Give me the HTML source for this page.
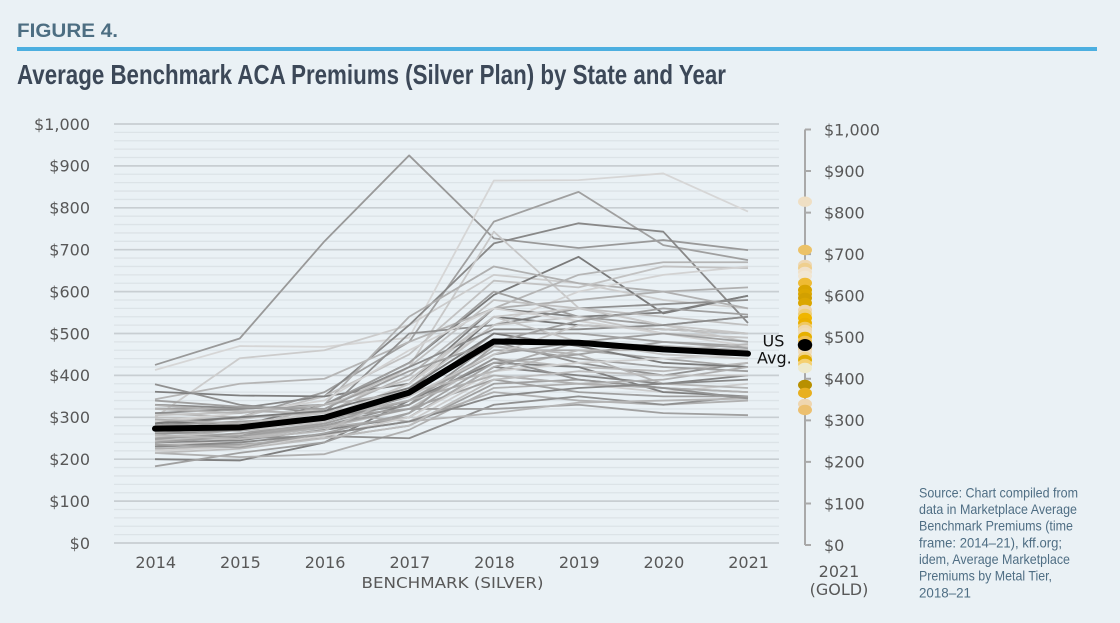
<!DOCTYPE html>
<html>
<head>
<meta charset="utf-8">
<style>
html,body{margin:0;padding:0;background:#eaf1f5;}
svg{display:block;}
</style>
</head>
<body>
<svg width="1120" height="623" viewBox="0 0 1120 623" xmlns="http://www.w3.org/2000/svg">
<rect x="0" y="0" width="1120" height="623" fill="#eaf1f5"/>

<!-- Header -->
<text x="17" y="37" font-family="Liberation Sans, sans-serif" font-weight="bold" font-size="19" fill="#4d6e82" textLength="101" lengthAdjust="spacingAndGlyphs">FIGURE 4.</text>
<rect x="17" y="47" width="1080" height="4" fill="#4cafe0"/>
<text x="17" y="84" font-family="Liberation Sans, sans-serif" font-weight="bold" font-size="28" fill="#3c4858" textLength="709" lengthAdjust="spacingAndGlyphs">Average Benchmark ACA Premiums (Silver Plan) by State and Year</text>

<!-- Gridlines -->
<g transform="translate(0,543) scale(1,-0.419)">
<path vector-effect="non-scaling-stroke" stroke="#dce3e7" stroke-width="1.3" fill="none" d="M114 20H779M114 40H779M114 60H779M114 80H779M114 120H779M114 140H779M114 160H779M114 180H779M114 220H779M114 240H779M114 260H779M114 280H779M114 320H779M114 340H779M114 360H779M114 380H779M114 420H779M114 440H779M114 460H779M114 480H779M114 520H779M114 540H779M114 560H779M114 580H779M114 620H779M114 640H779M114 660H779M114 680H779M114 720H779M114 740H779M114 760H779M114 780H779M114 820H779M114 840H779M114 860H779M114 880H779M114 920H779M114 940H779M114 960H779M114 980H779"/>
<path vector-effect="non-scaling-stroke" stroke="#c8ced2" stroke-width="1.7" fill="none" d="M114 0H779M114 100H779M114 200H779M114 300H779M114 400H779M114 500H779M114 600H779M114 700H779M114 800H779M114 900H779M114 1000H779"/>
</g>

<!-- Left axis labels -->
<g font-family="DejaVu Sans, sans-serif" font-size="16" fill="#585858" text-anchor="end">
<text x="90" y="548.8">$0</text>
<text x="90" y="506.9">$100</text>
<text x="90" y="465">$200</text>
<text x="90" y="423.1">$300</text>
<text x="90" y="381.2">$400</text>
<text x="90" y="339.3">$500</text>
<text x="90" y="297.4">$600</text>
<text x="90" y="255.5">$700</text>
<text x="90" y="213.6">$800</text>
<text x="90" y="171.7">$900</text>
<text x="90" y="129.8">$1,000</text>
</g>

<!-- Year labels -->
<g font-family="DejaVu Sans, sans-serif" font-size="16" fill="#585858" text-anchor="middle">
<text x="155.7" y="568">2014</text>
<text x="240.4" y="568">2015</text>
<text x="325.1" y="568">2016</text>
<text x="409.8" y="568">2017</text>
<text x="494.5" y="568">2018</text>
<text x="579.2" y="568">2019</text>
<text x="663.9" y="568">2020</text>
<text x="748.6" y="568">2021</text>
<text x="452.5" y="588" font-size="15.5" textLength="182" lengthAdjust="spacingAndGlyphs">BENCHMARK (SILVER)</text>
<text x="839" y="577">2021</text>
<text x="839" y="595">(GOLD)</text>
</g>

<!-- State lines -->
<g transform="matrix(84.714 0 0 -0.419 155 543)" fill="none" stroke-width="1.8" stroke-linejoin="round">
<polyline vector-effect="non-scaling-stroke" stroke="#999999" points="0,425 1,488 2,720 3,925 4,727 5,704 6,723 7,699"/>
<polyline vector-effect="non-scaling-stroke" stroke="#d6d6d6" points="0,413 1,470 2,468 3,490 4,865 5,866 6,882 7,791"/>
<polyline vector-effect="non-scaling-stroke" stroke="#cccccc" points="0,300 1,441 2,460 3,520 4,640 5,620 6,580 7,560"/>
<polyline vector-effect="non-scaling-stroke" stroke="#a0a0a0" points="0,280 1,300 2,360 3,480 4,767 5,838 6,711 7,675"/>
<polyline vector-effect="non-scaling-stroke" stroke="#888888" points="0,330 1,322 2,350 3,520 4,715 5,763 6,743 7,525"/>
<polyline vector-effect="non-scaling-stroke" stroke="#7a7a7a" points="0,260 1,280 2,330 3,430 4,592 5,683 6,548 7,590"/>
<polyline vector-effect="non-scaling-stroke" stroke="#c8c8c8" points="0,240 1,260 2,300 3,420 4,743 5,561 6,520 7,480"/>
<polyline vector-effect="non-scaling-stroke" stroke="#b0b0b0" points="0,250 1,270 2,330 3,540 4,660 5,620 6,600 7,610"/>
<polyline vector-effect="non-scaling-stroke" stroke="#c2c2c2" points="0,290 1,300 2,350 3,450 4,626 5,610 6,660 7,656"/>
<polyline vector-effect="non-scaling-stroke" stroke="#b5b5b5" points="0,343 1,380 2,392 3,480 4,560 5,640 6,670 7,670"/>
<polyline vector-effect="non-scaling-stroke" stroke="#d2d2d2" points="0,230 1,250 2,290 3,380 4,520 5,600 6,640 7,660"/>
<polyline vector-effect="non-scaling-stroke" stroke="#7f7f7f" points="0,361 1,352 2,350 3,380 4,560 5,540 6,550 7,590"/>
<polyline vector-effect="non-scaling-stroke" stroke="#909090" points="0,379 1,330 2,310 3,500 4,520 5,560 6,570 7,580"/>
<polyline vector-effect="non-scaling-stroke" stroke="#a0a0a0" points="0,321 1,320 2,330 3,430 4,600 5,540 6,520 7,540"/>
<polyline vector-effect="non-scaling-stroke" stroke="#b0b0b0" points="0,329 1,315 2,310 3,400 4,560 5,580 6,600 7,560"/>
<polyline vector-effect="non-scaling-stroke" stroke="#757575" points="0,290 1,280 2,300 3,360 4,540 5,520 6,510 7,500"/>
<polyline vector-effect="non-scaling-stroke" stroke="#c0c0c0" points="0,300 1,295 2,320 3,420 4,580 5,560 6,540 7,520"/>
<polyline vector-effect="non-scaling-stroke" stroke="#a0a0a0" points="0,270 1,268 2,290 3,350 4,500 5,500 6,480 7,470"/>
<polyline vector-effect="non-scaling-stroke" stroke="#c4c4c4" points="0,262 1,270 2,290 3,370 4,520 5,540 6,500 7,490"/>
<polyline vector-effect="non-scaling-stroke" stroke="#929292" points="0,255 1,260 2,280 3,330 4,480 5,430 6,400 7,430"/>
<polyline vector-effect="non-scaling-stroke" stroke="#a8a8a8" points="0,250 1,255 2,285 3,340 4,460 5,460 6,440 7,420"/>
<polyline vector-effect="non-scaling-stroke" stroke="#bababa" points="0,245 1,250 2,275 3,320 4,440 5,420 6,410 7,430"/>
<polyline vector-effect="non-scaling-stroke" stroke="#848484" points="0,240 1,245 2,270 3,300 4,420 5,400 6,380 7,400"/>
<polyline vector-effect="non-scaling-stroke" stroke="#cccccc" points="0,235 1,240 2,260 3,290 4,400 5,380 6,360 7,380"/>
<polyline vector-effect="non-scaling-stroke" stroke="#a0a0a0" points="0,230 1,235 2,250 3,280 4,380 5,390 6,370 7,360"/>
<polyline vector-effect="non-scaling-stroke" stroke="#b0b0b0" points="0,225 1,232 2,260 3,290 4,360 5,340 6,330 7,340"/>
<polyline vector-effect="non-scaling-stroke" stroke="#7f7f7f" points="0,200 1,197 2,240 3,340 4,430 5,420 6,360 7,350"/>
<polyline vector-effect="non-scaling-stroke" stroke="#a0a0a0" points="0,183 1,215 2,240 3,310 4,470 5,440 6,420 7,410"/>
<polyline vector-effect="non-scaling-stroke" stroke="#b0b0b0" points="0,215 1,205 2,212 3,270 4,370 5,380 6,370 7,360"/>
<polyline vector-effect="non-scaling-stroke" stroke="#909090" points="0,270 1,250 2,255 3,250 4,330 5,350 6,330 7,350"/>
<polyline vector-effect="non-scaling-stroke" stroke="#a0a0a0" points="0,280 1,290 2,300 3,320 4,320 5,330 6,310 7,305"/>
<polyline vector-effect="non-scaling-stroke" stroke="#b5b5b5" points="0,310 1,300 2,310 3,290 4,310 5,335 6,340 7,345"/>
<polyline vector-effect="non-scaling-stroke" stroke="#adadad" points="0,265 1,255 2,275 3,300 4,420 5,480 6,470 7,460"/>
<polyline vector-effect="non-scaling-stroke" stroke="#c8c8c8" points="0,255 1,260 2,300 3,380 4,540 5,560 6,520 7,500"/>
<polyline vector-effect="non-scaling-stroke" stroke="#8c8c8c" points="0,310 1,320 2,330 3,420 4,510 5,510 6,520 7,540"/>
<polyline vector-effect="non-scaling-stroke" stroke="#d2d2d2" points="0,290 1,310 2,340 3,460 4,560 5,530 6,500 7,470"/>
<polyline vector-effect="non-scaling-stroke" stroke="#a0a0a0" points="0,248 1,262 2,285 3,340 4,450 5,480 6,500 7,480"/>
<polyline vector-effect="non-scaling-stroke" stroke="#c4c4c4" points="0,305 1,312 2,330 3,390 4,540 5,480 6,450 7,440"/>
<polyline vector-effect="non-scaling-stroke" stroke="#7a7a7a" points="0,285 1,300 2,315 3,370 4,500 5,470 6,430 7,420"/>
<polyline vector-effect="non-scaling-stroke" stroke="#b5b5b5" points="0,320 1,310 2,330 3,360 4,470 5,450 6,380 7,370"/>
<polyline vector-effect="non-scaling-stroke" stroke="#a0a0a0" points="0,240 1,255 2,280 3,320 4,390 5,360 6,350 7,350"/>
<polyline vector-effect="non-scaling-stroke" stroke="#cfcfcf" points="0,220 1,230 2,255 3,300 4,410 5,430 6,440 7,450"/>
<polyline vector-effect="non-scaling-stroke" stroke="#939393" points="0,260 1,270 2,300 3,330 4,440 5,390 6,370 7,345"/>
<polyline vector-effect="non-scaling-stroke" stroke="#c4c4c4" points="0,275 1,285 2,310 3,350 4,450 5,520 6,510 7,500"/>
<polyline vector-effect="non-scaling-stroke" stroke="#b0b0b0" points="0,295 1,285 2,300 3,340 4,400 5,380 6,390 7,420"/>
<polyline vector-effect="non-scaling-stroke" stroke="#888888" points="0,230 1,240 2,260 3,290 4,350 5,370 6,380 7,390"/>
<polyline vector-effect="non-scaling-stroke" stroke="#bdbdbd" points="0,215 1,225 2,250 3,280 4,390 5,410 6,400 7,400"/>
<polyline vector-effect="non-scaling-stroke" stroke="#a0a0a0" points="0,340 1,325 2,320 3,410 4,480 5,530 6,560 7,545"/>
<polyline vector-effect="non-scaling-stroke" stroke="#b9b9b9" points="0,258 1,248 2,268 3,360 4,410 5,460 6,460 7,475"/>
<polyline vector-effect="non-scaling-stroke" stroke="#a3a3a3" points="0,235 1,228 2,262 3,310 4,430 5,450 6,480 7,465"/>
<!-- US average -->
<polyline vector-effect="non-scaling-stroke" stroke="#000000" stroke-width="6" stroke-linecap="round" points="0,273 1,276 2,299 3,359 4,481 5,478 6,462 7,452"/>
</g>

<!-- US Avg label -->
<g font-family="DejaVu Sans, sans-serif" font-size="16" fill="#111">
<text x="762.5" y="346.5">US</text>
<text x="757" y="363.5">Avg.</text>
</g>

<!-- Right axis -->
<g stroke="#a9a9a9" stroke-width="2" fill="none">
<path d="M805 129.5V545"/>
<path d="M805 129.5H811M805 171.05H811M805 212.6H811M805 254.15H811M805 295.7H811M805 337.25H811M805 378.8H811M805 420.35H811M805 461.9H811M805 503.45H811M805 545H811"/>
</g>
<g font-family="DejaVu Sans, sans-serif" font-size="16" fill="#585858">
<text x="824" y="135.3">$1,000</text>
<text x="824" y="176.9">$900</text>
<text x="824" y="218.4">$800</text>
<text x="824" y="260">$700</text>
<text x="824" y="301.5">$600</text>
<text x="824" y="343.1">$500</text>
<text x="824" y="384.6">$400</text>
<text x="824" y="426.2">$300</text>
<text x="824" y="467.7">$200</text>
<text x="824" y="509.3">$100</text>
<text x="824" y="550.8">$0</text>
</g>

<!-- Gold dots -->
<g>
<ellipse cx="805" cy="201.7" rx="7" ry="5.2" fill="#efdfc4"/>
<ellipse cx="805" cy="250" rx="7" ry="5.2" fill="#ecc267"/>
<ellipse cx="805" cy="265" rx="7" ry="5.2" fill="#eed8b4"/>
<ellipse cx="805" cy="268" rx="7" ry="5.2" fill="#efcf8e"/>
<ellipse cx="805" cy="272" rx="7" ry="5.2" fill="#f1e1c8"/>
<ellipse cx="805" cy="276" rx="7" ry="5.2" fill="#f1e6d3"/>
<ellipse cx="805" cy="283" rx="7" ry="5.2" fill="#efbb34"/>
<ellipse cx="805" cy="290" rx="7" ry="5.2" fill="#d9a400"/>
<ellipse cx="805" cy="294" rx="7" ry="5.2" fill="#dca700"/>
<ellipse cx="805" cy="298" rx="7" ry="5.2" fill="#d2a000"/>
<ellipse cx="805" cy="303" rx="7" ry="5.2" fill="#dba600"/>
<ellipse cx="805" cy="310" rx="7" ry="5.2" fill="#efd5ab"/>
<ellipse cx="805" cy="314" rx="7" ry="5.2" fill="#efcf7a"/>
<ellipse cx="805" cy="318" rx="7" ry="5.2" fill="#f0b600"/>
<ellipse cx="805" cy="323" rx="7" ry="5.2" fill="#ebb000"/>
<ellipse cx="805" cy="327" rx="7" ry="5.2" fill="#f0c860"/>
<ellipse cx="805" cy="330" rx="7" ry="5.2" fill="#f0d8ac"/>
<ellipse cx="805" cy="333" rx="7" ry="5.2" fill="#f0dcb6"/>
<ellipse cx="805" cy="337" rx="7" ry="5.2" fill="#e6b000"/>
<ellipse cx="805" cy="341" rx="7" ry="5.2" fill="#f0c050"/>
<ellipse cx="805" cy="349" rx="7" ry="5.2" fill="#efd09a"/>
<ellipse cx="805" cy="352" rx="7" ry="5.2" fill="#f0dcbc"/>
<ellipse cx="805" cy="357" rx="7" ry="5.2" fill="#f2d48a"/>
<ellipse cx="805" cy="360" rx="7" ry="5.2" fill="#e0aa00"/>
<ellipse cx="805" cy="364" rx="7" ry="5.2" fill="#f5d070"/>
<ellipse cx="805" cy="368" rx="7" ry="5.2" fill="#eeeacb"/>
<ellipse cx="805" cy="385" rx="7" ry="5.2" fill="#b89000"/>
<ellipse cx="805" cy="393" rx="7" ry="5.2" fill="#e8b020"/>
<ellipse cx="805" cy="404" rx="7" ry="5.2" fill="#efd6b0"/>
<ellipse cx="805" cy="410" rx="7" ry="5.2" fill="#ecc070"/>
<ellipse cx="805" cy="345" rx="7.2" ry="6" fill="#000000"/>
</g>

<!-- Source -->
<g font-family="Liberation Sans, sans-serif" font-size="14" fill="#4f6e84">
<text x="919" y="497.3" textLength="159" lengthAdjust="spacingAndGlyphs">Source: Chart compiled from</text>
<text x="919" y="514" textLength="158" lengthAdjust="spacingAndGlyphs">data in Marketplace Average</text>
<text x="919" y="530.7" textLength="154" lengthAdjust="spacingAndGlyphs">Benchmark Premiums (time</text>
<text x="919" y="547.3" textLength="143" lengthAdjust="spacingAndGlyphs">frame: 2014–21), kff.org;</text>
<text x="919" y="564" textLength="151" lengthAdjust="spacingAndGlyphs">idem, Average Marketplace</text>
<text x="919" y="580.7" textLength="133" lengthAdjust="spacingAndGlyphs">Premiums by Metal Tier,</text>
<text x="919" y="597.3" textLength="52" lengthAdjust="spacingAndGlyphs">2018–21</text>
</g>
</svg>
</body>
</html>
